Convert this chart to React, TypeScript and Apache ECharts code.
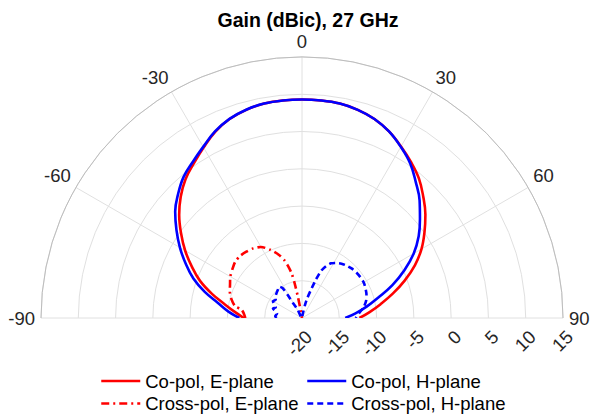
import React, { useEffect, useRef } from 'react';
import * as echarts from 'echarts';

// ---- data (angles in degrees, gain in dBic) ----
const titleText = 'Gain (dBic), 27 GHz';
const seriesNames = ['Co-pol, E-plane', 'Co-pol, H-plane', 'Cross-pol, E-plane', 'Cross-pol, H-plane'];

const coAngles = [
  -90, -85, -80, -75, -70, -65, -60, -55, -50, -45, -40, -35, -30, -25, -20, -15, -10, -5,
  0, 5, 10, 15, 20, 25, 30, 35, 40, 45, 50, 55, 60, 65, 70, 75, 80, 85, 90,
];
const coPolE = [
  -12.2, -11.0, -9.5, -7.5, -5.45, -3.7, -1.9, -0.2, 1.5, 3.0, 4.3, 5.3, 6.4, 7.55, 8.4, 8.9, 9.2, 9.28,
  9.3, 9.28, 9.2, 8.9, 8.4, 7.6, 6.55, 5.5, 4.4, 3.0, 1.6, 0.05, -1.5, -3.3, -5.35, -7.4, -9.3, -10.9, -12.3,
];
const coPolH = [
  -11.6, -10.1, -8.6, -6.5, -4.5, -2.8, -1.1, 0.55, 2.2, 3.5, 4.7, 5.55, 6.5, 7.6, 8.42, 8.92, 9.2, 9.28,
  9.3, 9.28, 9.2, 8.9, 8.4, 7.6, 6.5, 5.3, 3.75, 2.3, 0.65, -0.9, -2.7, -4.85, -7.1, -9.4, -11.2, -12.8, -14.2,
];

const xpolEAngles = [
  -90, -86, -82, -80, -75, -70, -65, -60, -55, -50, -45, -40, -35, -30, -25, -20, -17, -15, -13, -12, -11, -10, -9, 0,
];
const xpolE = [
  -12.4, -12.2, -11.8, -10.9, -10.2, -9.7, -9.35, -8.9, -8.6, -8.3, -8.25, -8.4, -8.6, -9.0, -9.9, -11.0, -11.9, -12.8, -13.9, -15.2, -17.0, -19.0, -20, -20,
];

const xpolHAngles = [
  -90, -86, -80, -75, -72, -68, -64, -60, -55, -50, -45, -40, -36, -33, -32, -31, -28, -25,
  8, 10, 13, 15, 18, 20, 22, 25, 28, 32, 36, 40, 45, 50, 55, 60, 65, 70, 75, 80, 85, 90,
];
const xpolH = [
  -16.6, -16.4, -16.6, -16.3, -15.9, -16.2, -15.9, -15.5, -15.7, -15.4, -15.2, -15.0, -14.8, -15.2, -16.3, -17.6, -18.8, -20,
  -20, -19.5, -18.2, -17.2, -15.8, -14.5, -13.2, -12.3, -11.7, -11.3, -11.0, -10.8, -10.6, -10.5, -10.45, -10.45, -10.6, -10.8, -11.1, -11.6, -12.3, -12.8,
];

const rMin = -20;
const rMax = 15;
const rStep = 5;
const aMin = -90;
const aMax = 90;
const aStep = 30;

const FONT = '"Liberation Sans", Arial, Helvetica, sans-serif';
const RED = '#ff0000';
const BLUE = '#0000ff';
const FS = 18.5;

function pairs(vals: number[], angs: number[]) {
  return vals.map((v, i) => [v, angs[i]]);
}

export default function App() {
  const ref = useRef<HTMLDivElement>(null);

  useEffect(() => {
    if (!ref.current) return;
    const chart = echarts.init(ref.current, undefined, { renderer: 'svg' });
    const legendCommon = {
      orient: 'vertical',
      top: 370,
      itemWidth: 39,
      itemHeight: 14,
      itemGap: 0.5,
      padding: 0,
      itemStyle: { opacity: 0 },
      lineStyle: { width: 2.5 },
      textStyle: { fontSize: FS, fontFamily: FONT, color: '#000', lineHeight: 22 },
    };
    const option: any = {
      animation: false,
      textStyle: { fontFamily: FONT },
      title: {
        text: titleText,
        left: 303,
        top: 5,
        textAlign: 'center',
        textStyle: { fontFamily: FONT, fontSize: 19.5, fontWeight: 'bold', color: '#000' },
      },
      polar: [
        { center: [302, 318], radius: 261 },
        { center: [302, 318], radius: 261 },
      ],
      angleAxis: [
        {
          polarIndex: 0,
          type: 'value',
          min: aMin,
          max: aMax,
          interval: aStep,
          startAngle: 180,
          endAngle: 0,
          clockwise: true,
          axisLine: { show: true, lineStyle: { color: '#bdbdbd', width: 1 } },
          axisTick: { show: false },
          axisLabel: { margin: 6, fontSize: FS, color: '#262626', fontFamily: FONT },
          splitLine: { show: true, lineStyle: { color: '#e0e0e0', width: 1 } },
        },
        {
          polarIndex: 1,
          type: 'value',
          min: aMin,
          max: aMax,
          startAngle: 0,
          endAngle: 180,
          clockwise: false,
          show: false,
        },
      ],
      radiusAxis: [
        {
          polarIndex: 0,
          type: 'value',
          min: rMin,
          max: rMax,
          interval: rStep,
          axisLine: { show: false },
          axisTick: { show: false },
          axisLabel: { show: false },
          splitLine: { show: true, lineStyle: { color: '#e0e0e0', width: 1 } },
        },
        {
          polarIndex: 1,
          type: 'value',
          min: rMin,
          max: rMax,
          interval: rStep,
          axisLine: { show: false },
          axisTick: { show: false },
          splitLine: { show: false },
          axisLabel: {
            rotate: 45,
            margin: -9,
            align: 'right',
            verticalAlign: 'top',
            fontSize: FS,
            color: '#262626',
            fontFamily: FONT,
          },
        },
      ],
      legend: [
        { ...legendCommon, left: 100, data: [seriesNames[0], seriesNames[2]] },
        { ...legendCommon, left: 306, data: [seriesNames[1], seriesNames[3]] },
      ],
      series: [
        {
          name: seriesNames[0],
          type: 'line',
          coordinateSystem: 'polar',
          polarIndex: 0,
          symbol: 'none',
          smooth: 0.4,
          color: RED,
          lineStyle: { color: RED, width: 2.6 },
          data: pairs(coPolE, coAngles),
        },
        {
          name: seriesNames[1],
          type: 'line',
          coordinateSystem: 'polar',
          polarIndex: 0,
          symbol: 'none',
          smooth: 0.4,
          color: BLUE,
          lineStyle: { color: BLUE, width: 2.6 },
          data: pairs(coPolH, coAngles),
        },
        {
          name: seriesNames[2],
          type: 'line',
          coordinateSystem: 'polar',
          polarIndex: 0,
          symbol: 'none',
          smooth: 0.25,
          color: RED,
          lineStyle: { color: RED, width: 2.6, type: [8, 4, 2, 4] },
          data: pairs(xpolE, xpolEAngles),
        },
        {
          name: seriesNames[3],
          type: 'line',
          coordinateSystem: 'polar',
          polarIndex: 0,
          symbol: 'none',
          smooth: 0.25,
          color: BLUE,
          lineStyle: { color: BLUE, width: 2.6, type: [6, 4] },
          data: pairs(xpolH, xpolHAngles),
        },
      ],
    };
    chart.setOption(option);
    return () => chart.dispose();
  }, []);

  return (
    <div
      ref={ref}
      style={{ position: 'fixed', left: 0, top: 0, width: 590, height: 419, background: '#fff' }}
    />
  );
}
